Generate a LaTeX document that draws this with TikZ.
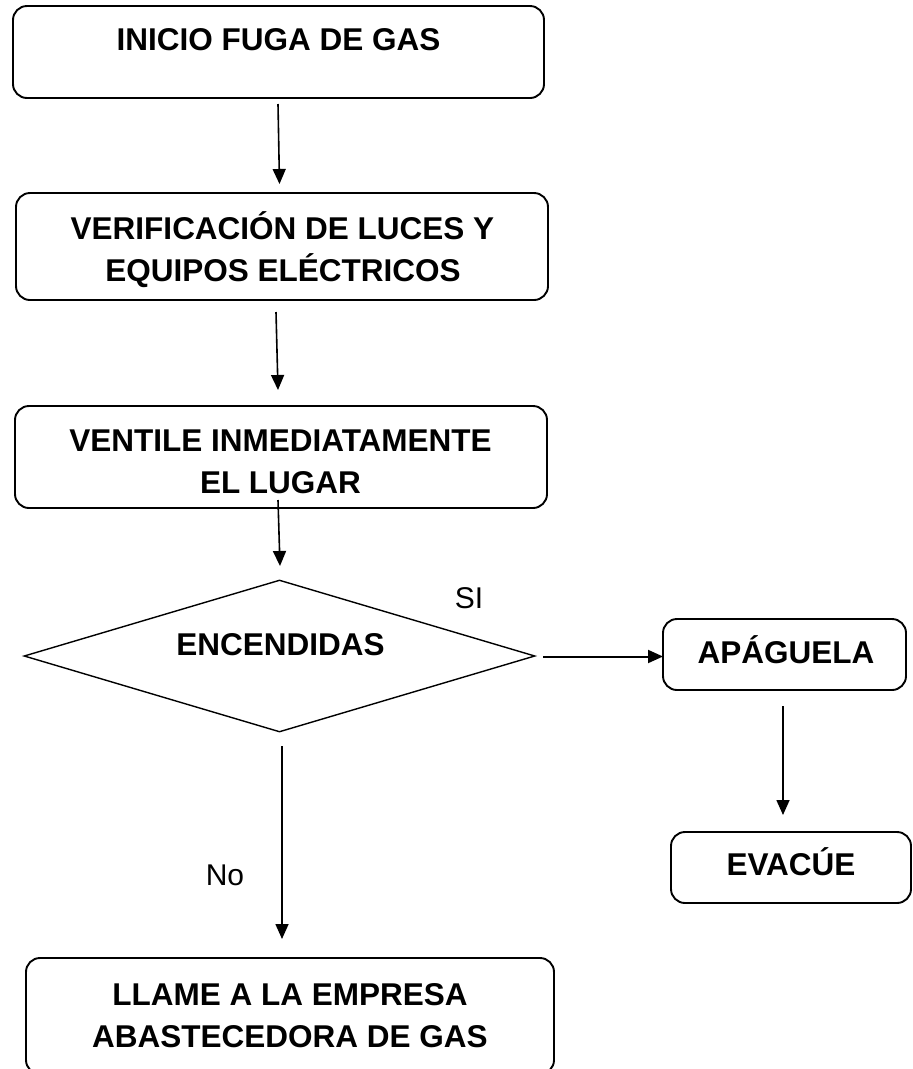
\documentclass[tikz,border=0pt]{standalone}
\usepackage{fontspec}
\setmainfont{Liberation Sans}
\usetikzlibrary{arrows.meta,shapes.geometric}
\tikzset{
  procbox/.style={draw=black, line width=1.9pt, rounded corners=14pt, inner sep=0pt},
  decbox/.style={draw=black, line width=1.4pt, diamond, inner sep=0pt},
  btxt/.style={anchor=base, inner sep=0pt, font=\fontsize{31.5}{42}\selectfont\bfseries},
  ltxt/.style={anchor=base, inner sep=0pt, font=\fontsize{30}{36}\selectfont},
  conn/.style={draw=black, line width=1.6pt, -{Triangle[length=15pt,width=13pt]}},
}
\begin{document}
\begin{tikzpicture}[x=1pt,y=-1pt]
\useasboundingbox (0,0) rectangle (913,1069);
% boxes
\node[procbox, minimum width=531pt, minimum height=92pt] (b1) at (278.5,52) {};
\node[procbox, minimum width=532pt, minimum height=107pt] (b2) at (282,246.5) {};
\node[procbox, minimum width=532pt, minimum height=102pt] (b3) at (281,457) {};
\node[decbox, minimum width=511pt, minimum height=152pt] (d) at (279.5,656) {};
\node[procbox, minimum width=243pt, minimum height=71pt] (b4) at (784.5,654.5) {};
\node[procbox, minimum width=240pt, minimum height=71pt] (b5) at (791,867.5) {};
\node[procbox, minimum width=528pt, minimum height=116pt] (b6) at (290,1016) {};
% texts
\node[btxt] (t1) at (278.5,50) {INICIO FUGA DE GAS};
\node[btxt] (t2a) at (282.5,239) {VERIFICACIÓN DE LUCES Y};
\node[btxt] (t2b) at (283,281) {EQUIPOS ELÉCTRICOS};
\node[btxt] (t3a) at (280.5,451) {VENTILE INMEDIATAMENTE};
\node[btxt] (t3b) at (280.5,493) {EL LUGAR};
\node[btxt] (td) at (280.5,655) {ENCENDIDAS};
\node[btxt] (t4) at (786,663) {APÁGUELA};
\node[btxt] (t5) at (791,875) {EVACÚE};
\node[btxt] (t6a) at (290,1005) {LLAME A LA EMPRESA};
\node[btxt] (t6b) at (290,1047) {ABASTECEDORA DE GAS};
\node[ltxt] (si) at (469,608) {SI};
\node[ltxt] (no) at (225,885) {No};
% connector ends
\coordinate (a1s) at (278,104);   \coordinate (a1e) at (279.5,184);
\coordinate (a2s) at (276,312);   \coordinate (a2e) at (278,390);
\coordinate (a3s) at (278,500);   \coordinate (a3e) at (280,566);
\coordinate (a4s) at (543,656.5); \coordinate (a4e) at (663,656.5);
\coordinate (a5s) at (783,706);   \coordinate (a5e) at (783,815);
\coordinate (a6s) at (282,746);   \coordinate (a6e) at (282,939);
% connectors
\draw[conn] (a1s) -- (a1e);
\draw[conn] (a2s) -- (a2e);
\draw[conn] (a3s) -- (a3e);
\draw[conn, line width=2pt] (a4s) -- (a4e);
\draw[conn] (a5s) -- (a5e);
\draw[conn] (a6s) -- (a6e);
\end{tikzpicture}
\end{document}
